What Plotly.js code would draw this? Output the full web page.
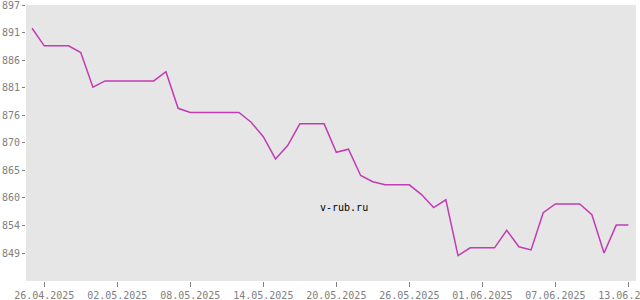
<!DOCTYPE html>
<html>
<head>
<meta charset="utf-8">
<script src="https://cdn.plot.ly/plotly-3.0.1.min.js"></script>
<style>
html,body{margin:0;padding:0;background:#ffffff;}
#chart{width:640px;height:300px;}
</style>
</head>
<body>
<div id="chart"></div>
<script>
const dates = [
  '2025-04-25','2025-04-26','2025-04-27','2025-04-28','2025-04-29','2025-04-30',
  '2025-05-01','2025-05-02','2025-05-03','2025-05-04','2025-05-05','2025-05-06',
  '2025-05-07','2025-05-08','2025-05-09','2025-05-10','2025-05-11','2025-05-12',
  '2025-05-13','2025-05-14','2025-05-15','2025-05-16','2025-05-17','2025-05-18',
  '2025-05-19','2025-05-20','2025-05-21','2025-05-22','2025-05-23','2025-05-24',
  '2025-05-25','2025-05-26','2025-05-27','2025-05-28','2025-05-29','2025-05-30',
  '2025-05-31','2025-06-01','2025-06-02','2025-06-03','2025-06-04','2025-06-05',
  '2025-06-06','2025-06-07','2025-06-08','2025-06-09','2025-06-10','2025-06-11',
  '2025-06-12','2025-06-13'
];
const rates = [
  892.5, 889.1, 889.1, 889.1, 887.8, 881.1,
  882.3, 882.3, 882.3, 882.3, 882.3, 884.1,
  877.0, 876.2, 876.2, 876.2, 876.2, 876.2,
  874.3, 871.5, 867.2, 869.8, 874.0, 874.0,
  874.0, 868.5, 869.1, 864.0, 862.8, 862.2,
  862.2, 862.2, 860.3, 857.8, 859.3, 848.5,
  850.0, 850.0, 850.0, 853.4, 850.2, 849.6,
  856.8, 858.5, 858.5, 858.5, 856.4, 849.0,
  854.4, 854.4
];
const xTickVals = ['2025-04-26','2025-05-02','2025-05-08','2025-05-14','2025-05-20','2025-05-26','2025-06-01','2025-06-07','2025-06-13'];
const xTickText = ['26.04.2025','02.05.2025','08.05.2025','14.05.2025','20.05.2025','26.05.2025','01.06.2025','07.06.2025','13.06.2025'];
const yTickVals = [849, 854.33, 859.67, 865, 870.33, 875.67, 881, 886.33, 891.67, 897];
const yTickText = ['849','854','860','865','870','876','881','886','891','897'];
const watermark = 'v-rub.ru';

const trace = {
  x: dates,
  y: rates,
  type: 'scatter',
  mode: 'lines',
  line: {color: '#c23cb4', width: 1.5},
  hoverinfo: 'skip'
};

const tickFont = {family: 'DejaVu Sans Mono, monospace', size: 10, color: '#808080'};

const layout = {
  width: 640,
  height: 300,
  margin: {l: 26, r: 4, t: 5, b: 19, pad: 0},
  paper_bgcolor: '#ffffff',
  plot_bgcolor: '#e6e6e6',
  showlegend: false,
  font: tickFont,
  xaxis: {
    type: 'date',
    range: ['2025-04-24 12:00', '2025-06-13 15:00'],
    tickmode: 'array',
    tickvals: xTickVals,
    ticktext: xTickText,
    ticks: 'outside',
    ticklen: 5,
    tickwidth: 1,
    tickcolor: '#808080',
    ticklabeloverflow: 'allow',
    showgrid: false,
    zeroline: false,
    showline: false,
    tickfont: tickFont
  },
  yaxis: {
    range: [843.58, 897],
    tickmode: 'array',
    tickvals: yTickVals,
    ticktext: yTickText,
    ticks: 'outside',
    ticklen: 3,
    tickwidth: 1,
    tickcolor: '#808080',
    ticklabeloverflow: 'allow',
    showgrid: false,
    zeroline: false,
    showline: false,
    tickfont: tickFont
  },
  annotations: [{
    text: watermark,
    xref: 'paper', yref: 'paper',
    x: 0.522, y: 0.268,
    xanchor: 'center', yanchor: 'middle',
    showarrow: false,
    font: {family: 'DejaVu Sans Mono, monospace', size: 10, color: '#000000'}
  }]
};

Plotly.newPlot('chart', [trace], layout, {displayModeBar: false, staticPlot: true});
</script>
</body>
</html>
